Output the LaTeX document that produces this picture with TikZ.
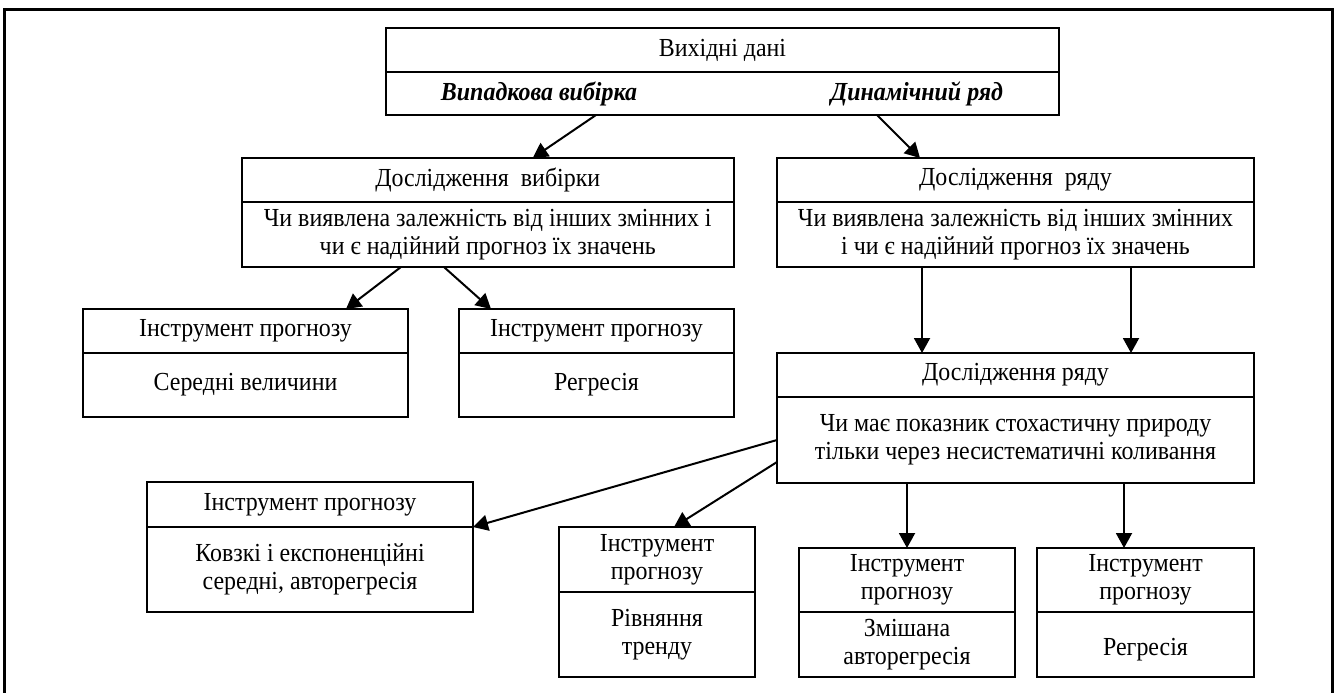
\documentclass[tikz,border=0pt]{standalone}
\usepackage{fontspec}
\setmainfont[FakeStretch=0.92]{Liberation Serif}
\usepackage{tikz}
\usetikzlibrary{arrows.meta,
                positioning
            }

\begin{document}
\begin{tikzpicture}[x=0.5pt, y=-0.5pt,
        part/.style={draw, line width=1pt, outer sep=0pt, inner sep=1pt, align=center,
                     font=\fontsize{13}{13.8}\selectfont},
        arr/.style={-{Triangle[length=7.5pt, width=8pt]}, line width=1pt}]
            \useasboundingbox (0, 0) rectangle (1336, 692);
            \draw[line width=1.5pt] (4.5, 700) -- (4.5, 9.5) -- (1332, 9.5) -- (1332, 700);

            % source data
            \node[part, minimum width=336.5pt, minimum height=22pt] (srcA) at (722.5, 50) {Вихідні дані};
            \node[part, minimum width=336.5pt, minimum height=21.5pt, below=0pt of srcA] (srcB) {};
            \node[font=\fontsize{13}{13.8}\selectfont\bfseries\itshape] (rnd) at (539, 94) {Випадкова вибірка};
            \node[font=\fontsize{13}{13.8}\selectfont\bfseries\itshape] (dyn) at (917, 94) {Динамічний ряд};

            % second level
            \node[part, minimum width=246.25pt, minimum height=22pt] (smpA) at (487.75, 180) {Дослідження~~вибірки};
            \node[part, minimum width=246.25pt, minimum height=32.5pt, below=0pt of smpA] (smpB)
                {Чи виявлена залежність від інших змінних і\\ чи є надійний прогноз їх значень};
            \node[part, minimum width=238.5pt, minimum height=22pt] (serA) at (1015.5, 180) {Дослідження~~ряду};
            \node[part, minimum width=238.5pt, minimum height=32.5pt, below=0pt of serA] (serB)
                {Чи виявлена залежність від інших змінних\\ і чи є надійний прогноз їх значень};

            % tools for the sample
            \node[part, minimum width=162.5pt, minimum height=22pt] (avgA) at (245.5, 331) {Інструмент прогнозу};
            \node[part, minimum width=162.5pt, minimum height=32pt, below=0pt of avgA] (avgB) {Середні величини};
            \node[part, minimum width=137.5pt, minimum height=22pt] (regA) at (596.5, 331) {Інструмент прогнозу};
            \node[part, minimum width=137.5pt, minimum height=32pt, below=0pt of regA] (regB) {Регресія};

            % series, second step
            \node[part, minimum width=238.5pt, minimum height=22pt] (stoA) at (1015.5, 375) {Дослідження ряду};
            \node[part, minimum width=238.5pt, minimum height=43pt, below=0pt of stoA] (stoB)
                {Чи має показник стохастичну природу\\ тільки через несистематичні коливання};

            % tools for the series
            \node[part, minimum width=163pt, minimum height=22.5pt] (movA) at (310, 504.5) {Інструмент прогнозу};
            \node[part, minimum width=163pt, minimum height=42.5pt, below=0pt of movA] (movB)
                {Ковзкі і експоненційні\\ середні, авторегресія};
            \node[part, minimum width=98pt, minimum height=32.5pt] (trdA) at (657, 559.5) {Інструмент\\ прогнозу};
            \node[part, minimum width=98pt, minimum height=42.5pt, below=0pt of trdA] (trdB) {Рівняння\\ тренду};
            \node[part, minimum width=108pt, minimum height=32pt] (mixA) at (907, 580) {Інструмент\\ прогнозу};
            \node[part, minimum width=108pt, minimum height=32.5pt, below=0pt of mixA] (mixB) {Змішана\\ авторегресія};
            \node[part, minimum width=108.5pt, minimum height=32pt] (rgsA) at (1145.5, 580) {Інструмент\\ прогнозу};
            \node[part, minimum width=108.5pt, minimum height=32.5pt, below=0pt of rgsA] (rgsB) {\mbox{}\\ Регресія};

            \draw[arr] ([xshift=-63.25pt]srcB.south) -- ([xshift=22.5pt]smpA.north);
            \draw[arr] ([xshift=77.25pt]srcB.south) -- ([xshift=-47.75pt]serA.north);
            \draw[arr] ([xshift=-43.4pt]smpB.south) -- ([xshift=50.25pt]avgA.north);
            \draw[arr] ([xshift=-21.9pt]smpB.south) -- ([xshift=-52.75pt]regA.north);
            \draw[arr] ([xshift=-46.75pt]serB.south) -- ([xshift=-46.75pt]stoA.north);
            \draw[arr] ([xshift=57.75pt]serB.south) -- ([xshift=57.75pt]stoA.north);
            \draw[arr] (stoB.west) -- (movA.south east);
            \draw[arr] ([yshift=-11pt]stoB.west) -- ([xshift=8.5pt]trdA.north);
            \draw[arr] (stoB.south -| mixA.north) -- (mixA.north);
            \draw[arr] ([xshift=-10.75pt]stoB.south -| rgsA.north) -- ([xshift=-10.75pt]rgsA.north);
        \end{tikzpicture}
\end{document}
